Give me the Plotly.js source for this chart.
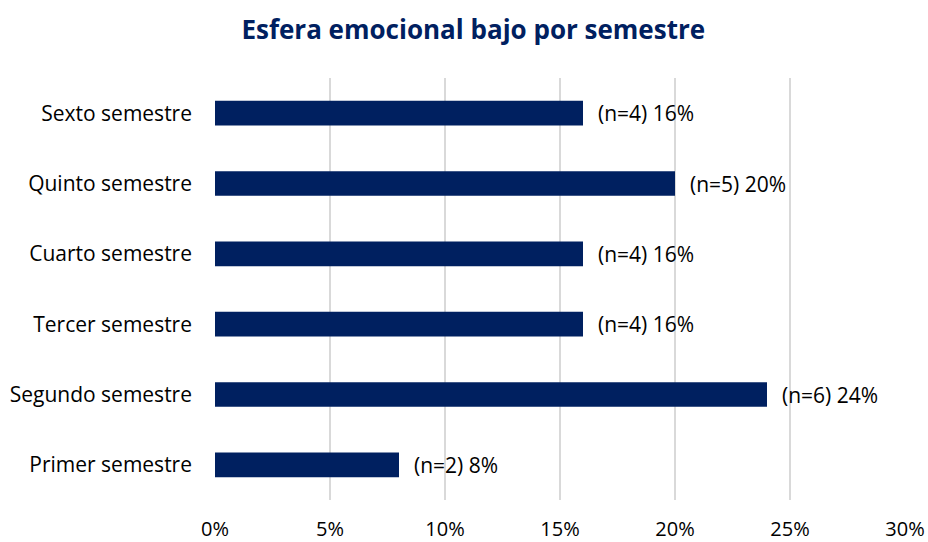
<!DOCTYPE html>
<html>
<head>
<meta charset="utf-8">
<script src="https://cdn.plot.ly/plotly-3.0.1.min.js"></script>
<style>html,body{margin:0;padding:0;background:#fff;}#chart{width:928px;height:542px;}</style>
</head>
<body>
<div id="chart"></div>
<script>
const categories = ["Primer semestre", "Segundo semestre", "Tercer semestre", "Cuarto semestre", "Quinto semestre", "Sexto semestre"];
const percentages = [0.08, 0.24, 0.16, 0.16, 0.20, 0.16];
const counts = [2, 6, 4, 4, 5, 4];
const tickValues = [0, 0.05, 0.10, 0.15, 0.20, 0.25, 0.30];
const tickLabels = ["0%", "5%", "10%", "15%", "20%", "25%", "30%"];

const FONT = "'Open Sans', sans-serif";
const navy = "#002060";

const trace = {
  type: "bar",
  orientation: "h",
  x: percentages,
  y: categories,
  marker: {color: navy},
  hoverinfo: "none"
};

const annotations = categories.map((c, i) => ({
  x: percentages[i],
  y: c,
  xref: "x",
  yref: "y",
  text: "(n=" + counts[i] + ") " + Math.round(percentages[i] * 100) + "%",
  showarrow: false,
  xanchor: "left",
  yanchor: "middle",
  xshift: 13,
  font: {family: FONT, size: 21, color: "#000"}
}));

const layout = {
  width: 928,
  height: 542,
  margin: {l: 215, r: 23, t: 78, b: 42},
  paper_bgcolor: "#fff",
  plot_bgcolor: "#fff",
  showlegend: false,
  bargap: 0.65,
  title: {
    text: "<b>Esfera emocional bajo por semestre</b>",
    font: {family: FONT, size: 26, color: navy},
    x: 0.51,
    xanchor: "center",
    y: 0.945,
    yanchor: "middle"
  },
  xaxis: {
    range: [0, 0.30],
    tickvals: tickValues,
    ticktext: tickLabels,
    showgrid: true,
    gridcolor: "#d9d9d9",
    gridwidth: 1.5,
    zeroline: false,
    showline: false,
    ticks: "",
    ticklabelstandoff: 15,
    tickfont: {family: FONT, size: 20, color: "#000"},
    fixedrange: true
  },
  yaxis: {
    categoryorder: "array",
    categoryarray: categories,
    showgrid: false,
    zeroline: false,
    showline: false,
    ticks: "",
    ticklabelstandoff: 22,
    tickfont: {family: FONT, size: 21, color: "#000"},
    fixedrange: true
  },
  annotations: annotations
};

Plotly.newPlot("chart", [trace], layout, {displayModeBar: false, staticPlot: true});
</script>
</body>
</html>
